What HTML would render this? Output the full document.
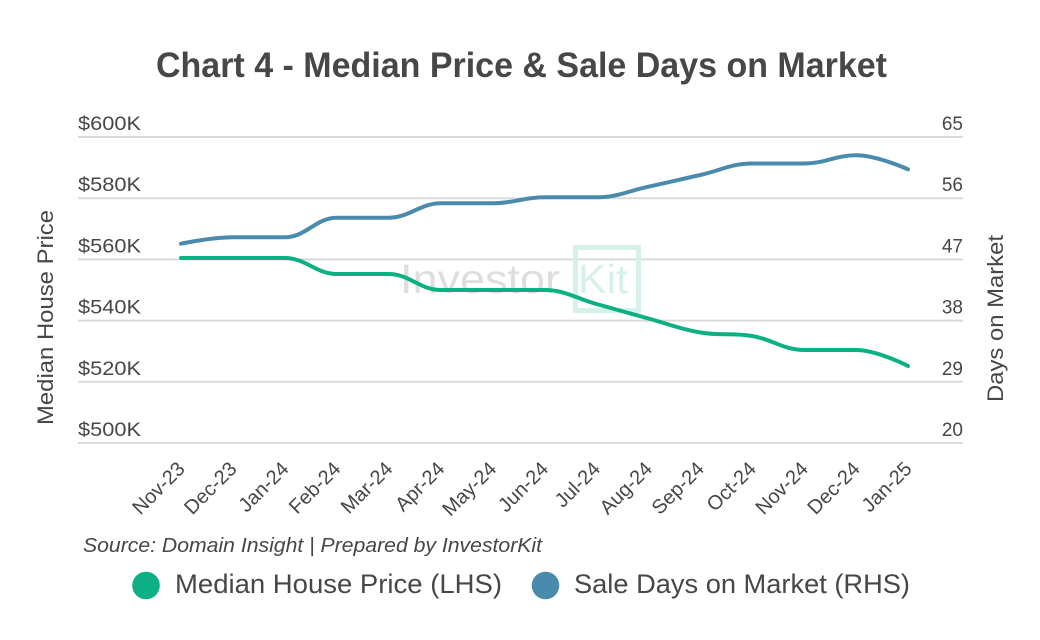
<!DOCTYPE html>
<html>
<head>
<meta charset="utf-8">
<style>
  html, body { margin:0; padding:0; background:#ffffff; }
  svg { display:block; }
  text { font-family: "Liberation Sans", sans-serif; fill:#474747; }
</style>
</head>
<body>
<svg width="1040" height="640" viewBox="0 0 1040 640" xmlns="http://www.w3.org/2000/svg">
  <rect x="0" y="0" width="1040" height="640" fill="#ffffff"/>

  <!-- Title -->
  <text x="156" y="77" font-size="35" font-weight="bold" textLength="731" lengthAdjust="spacingAndGlyphs" fill="#444444">Chart 4 - Median Price &amp; Sale Days on Market</text>

  <!-- Gridlines -->
  <g stroke="#dadada" stroke-width="2">
    <line x1="78" y1="137" x2="963" y2="137"/>
    <line x1="78" y1="198.2" x2="963" y2="198.2"/>
    <line x1="78" y1="259.4" x2="963" y2="259.4"/>
    <line x1="78" y1="320.6" x2="963" y2="320.6"/>
    <line x1="78" y1="381.8" x2="963" y2="381.8"/>
    <line x1="78" y1="443" x2="963" y2="443"/>
  </g>

  <!-- Left axis labels -->
  <g font-size="19">
    <text x="78" y="130" textLength="63" lengthAdjust="spacingAndGlyphs">$600K</text>
    <text x="78" y="191.2" textLength="63" lengthAdjust="spacingAndGlyphs">$580K</text>
    <text x="78" y="252.4" textLength="63" lengthAdjust="spacingAndGlyphs">$560K</text>
    <text x="78" y="313.6" textLength="63" lengthAdjust="spacingAndGlyphs">$540K</text>
    <text x="78" y="374.8" textLength="63" lengthAdjust="spacingAndGlyphs">$520K</text>
    <text x="78" y="436" textLength="63" lengthAdjust="spacingAndGlyphs">$500K</text>
  </g>

  <!-- Right axis labels -->
  <g font-size="19" text-anchor="end">
    <text x="963" y="130">65</text>
    <text x="963" y="191.2">56</text>
    <text x="963" y="252.4">47</text>
    <text x="963" y="313.6">38</text>
    <text x="963" y="374.8">29</text>
    <text x="963" y="436">20</text>
  </g>

  <!-- Axis titles -->
  <text transform="translate(53,317.5) rotate(-90)" text-anchor="middle" font-size="22" textLength="215" lengthAdjust="spacingAndGlyphs">Median House Price</text>
  <text transform="translate(1003,318.5) rotate(-90)" text-anchor="middle" font-size="22" textLength="167" lengthAdjust="spacingAndGlyphs">Days on Market</text>

  <!-- Watermark -->
  <g>
    <text x="400" y="293" font-size="41" style="fill:#dedede" textLength="160" lengthAdjust="spacingAndGlyphs">Investor</text>
    <rect x="575.5" y="247.5" width="63" height="63" fill="none" stroke="#d6f1ea" stroke-width="5"/>
    <text x="578" y="293" font-size="41" style="fill:#d6f1ea" textLength="50" lengthAdjust="spacingAndGlyphs">Kit</text>
  </g>

  <!-- Series: Sale Days on Market (blue) -->
  <path fill="none" stroke="#4a8bad" stroke-width="4" stroke-linecap="round" stroke-linejoin="round"
    d="M181,243.7
       C181,243.7 212.1,237.3 232.9,237.3
       C253.7,237.3 264.1,237.3 284.9,237.3
       C305.7,237.3 316,217.7 336.8,217.7
       C357.6,217.7 367.9,217.7 388.7,217.7
       C409.5,217.7 419.9,203.3 440.7,203.3
       C461.5,203.3 471.8,203.3 492.6,203.3
       C513.4,203.3 523.7,197.3 544.5,197.3
       C565.3,197.3 575.6,197.3 596.4,197.3
       C617.2,197.3 627.6,191.2 648.4,186.7
       C669.2,182.2 679.5,179.6 700.3,175
       C721.1,170.4 731.4,163.5 752.2,163.5
       C773,163.5 783.4,163.5 804.2,163.5
       C825,163.5 835.3,155.3 856.1,155.3
       C876.9,155.3 908,169.3 908,169.3"/>

  <!-- Series: Median House Price (green) -->
  <path fill="none" stroke="#0db084" stroke-width="4" stroke-linecap="round" stroke-linejoin="round"
    d="M181,258
       C181,258 212.1,258 232.9,258
       C253.7,258 264.1,258 284.9,258
       C305.7,258 316,274 336.8,274
       C357.6,274 367.9,274 388.7,274
       C409.5,274 419.9,290 440.7,290
       C461.5,290 471.8,290 492.6,290
       C513.4,290 523.7,290 544.5,290
       C565.3,290 575.6,298.3 596.4,304
       C617.2,309.7 627.6,312.8 648.4,318.5
       C669.2,324.2 679.5,329 700.3,332.5
       C721.1,336 731.4,332.5 752.2,336
       C773,339.5 783.4,350 804.2,350
       C825,350 835.3,350 856.1,350
       C876.9,350 908,366 908,366"/>

  <!-- X axis labels -->
  <g font-size="20" text-anchor="end">
    <text transform="translate(186,470) rotate(-45)">Nov-23</text>
    <text transform="translate(237.9,470) rotate(-45)">Dec-23</text>
    <text transform="translate(289.9,470) rotate(-45)">Jan-24</text>
    <text transform="translate(341.8,470) rotate(-45)">Feb-24</text>
    <text transform="translate(393.7,470) rotate(-45)">Mar-24</text>
    <text transform="translate(445.7,470) rotate(-45)">Apr-24</text>
    <text transform="translate(497.6,470) rotate(-45)">May-24</text>
    <text transform="translate(549.5,470) rotate(-45)">Jun-24</text>
    <text transform="translate(601.4,470) rotate(-45)">Jul-24</text>
    <text transform="translate(653.4,470) rotate(-45)">Aug-24</text>
    <text transform="translate(705.3,470) rotate(-45)">Sep-24</text>
    <text transform="translate(757.2,470) rotate(-45)">Oct-24</text>
    <text transform="translate(809.2,470) rotate(-45)">Nov-24</text>
    <text transform="translate(861.1,470) rotate(-45)">Dec-24</text>
    <text transform="translate(913,470) rotate(-45)">Jan-25</text>
  </g>

  <!-- Source -->
  <text x="83" y="552" font-size="20" font-style="italic" textLength="459" lengthAdjust="spacingAndGlyphs">Source: Domain Insight | Prepared by InvestorKit</text>

  <!-- Legend -->
  <circle cx="146" cy="585.5" r="13.8" fill="#0db084"/>
  <text x="175" y="593" font-size="27" textLength="327" lengthAdjust="spacingAndGlyphs">Median House Price (LHS)</text>
  <circle cx="545.5" cy="585.5" r="13.8" fill="#4a8bad"/>
  <text x="574" y="593" font-size="27" textLength="336" lengthAdjust="spacingAndGlyphs">Sale Days on Market (RHS)</text>
</svg>
</body>
</html>
